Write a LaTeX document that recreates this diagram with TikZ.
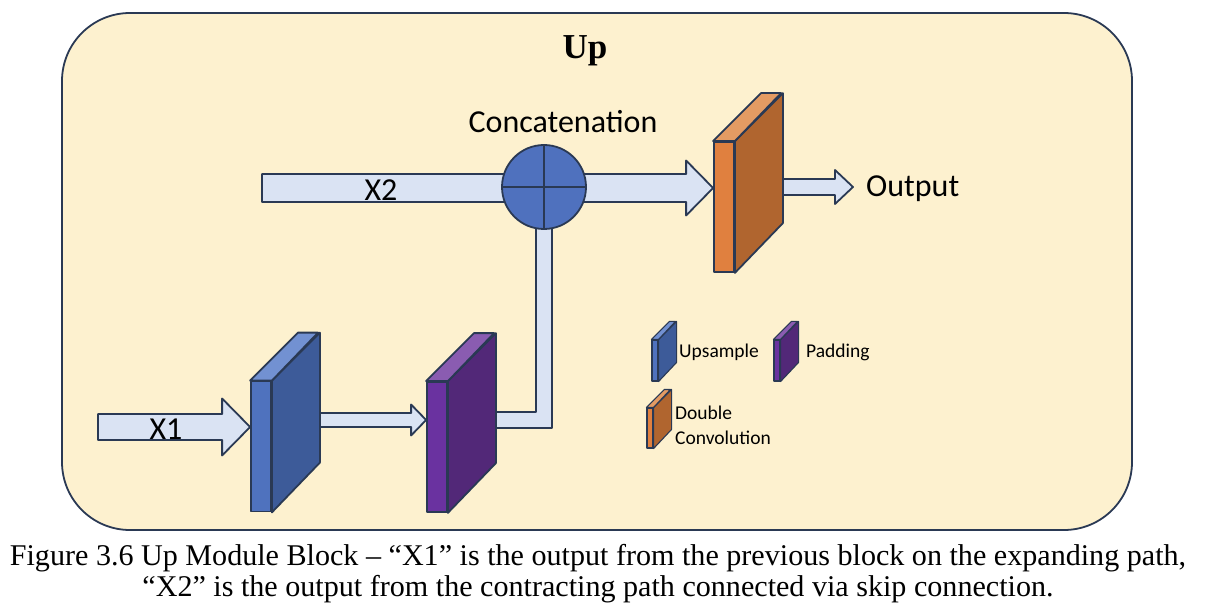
\documentclass[tikz,border=0pt]{standalone}
\usepackage{fontspec}
\setmainfont{Liberation Serif}
\newfontfamily\calibri{Carlito}
\usetikzlibrary{calc}

\definecolor{cream}{HTML}{FDF1CF}
\definecolor{navy}{HTML}{2A3954}
\definecolor{pipe}{HTML}{DAE3F3}
\definecolor{catblue}{HTML}{4F71BE}
\definecolor{upfront}{HTML}{4F72BE}
\definecolor{upside}{HTML}{3D5B99}
\definecolor{uptop}{HTML}{7291D2}
\definecolor{padfront}{HTML}{6A32A0}
\definecolor{padside}{HTML}{522878}
\definecolor{padtop}{HTML}{8A5CB1}
\definecolor{convfront}{HTML}{E0803F}
\definecolor{convside}{HTML}{B0652F}
\definecolor{convtop}{HTML}{E49B63}

\pgfdeclarelayer{back}
\pgfdeclarelayer{pipes}
\pgfsetlayers{back,pipes,main}

% feature map: front face is the node, side and top faces hang off its corners
\newcommand{\fmap}[6]{%
  \node[face, fill=#3front, minimum width=#4, minimum height=#5] (#1) at #2 {};
  \draw[wire, fill=#3side] (#1.north east) -- ++(#6,#6) -- ++(0,-#5) -- (#1.south east) -- cycle;
  \draw[wire, fill=#3top] (#1.north west) -- ++(#6,#6) -- ++(#4,0) -- (#1.north east) -- cycle;
}

% block arrow, level with its start
\newcommand{\fatarrow}[5]{%
  \draw[wire, fill=pipe] let \p1=#1, \p2=#2 in
    (\x1,\y1+#3) -- (\x2-#5,\y1+#3) -- (\x2-#5,\y1+#4) -- (\x2,\y1)
    -- (\x2-#5,\y1-#4) -- (\x2-#5,\y1-#3) -- (\x1,\y1-#3) -- cycle;
}

\begin{document}
\begin{tikzpicture}[x=1pt, y=-1pt,
    wire/.style={draw=navy, line width=1.8pt, line join=round},
    face/.style={wire, rectangle, inner sep=0pt},
    label/.style={font=\calibri\fontsize{32}{38}\selectfont},
    legend/.style={font=\calibri\fontsize{19.5}{25}\selectfont, align=left, anchor=west, inner sep=0pt}]

    \useasboundingbox (0,0) rectangle (1210,612);
    \begin{pgfonlayer}{back}
    \draw[wire, fill=cream, rounded corners=68pt] (62,13) rectangle (1132,530);
    \end{pgfonlayer}
    \node[font=\bfseries\fontsize{35}{40}\selectfont] (title) at (585,51) {Up};

    \coordinate (x2) at (262,188);
    \coordinate (x1) at (98,427);

    \fmap{up}{(261,446.5)}{up}{20pt}{130pt}{48pt}
    \fmap{pad}{(437,447)}{pad}{20pt}{130pt}{48pt}
    \fmap{conv}{(724,207)}{conv}{20pt}{130pt}{48pt}
    \node[wire, circle, fill=catblue, minimum size=84pt, inner sep=0pt] (cat) at (544,187) {};
    \draw[wire] (cat.north) -- (cat.south) (cat.west) -- (cat.east);

    \node[label] (catname) at (563,122) {Concatenation};
    \node[label] (x2name) at (381,190) {X2};
    \node[label] (x1name) at (166,429) {X1};
    \node[label, anchor=west, inner sep=0pt] (output) at (866,189) {Output};

    \coordinate (upout) at ([yshift=26.5pt]up.east);
    \coordinate (padout) at ([yshift=27pt]pad.east);
    \coordinate (convout) at ([yshift=20pt]conv.east);
    \coordinate (outtip) at ([xshift=-13pt]output.west);

    \begin{pgfonlayer}{pipes}
    \fatarrow{(x2)}{(conv.west)}{14pt}{27.5pt}{27pt}
    \fatarrow{(x1)}{(up.west)}{13pt}{28.5pt}{28pt}
    \fatarrow{(upout)}{(pad.west)}{7pt}{15.5pt}{15pt}
    \fatarrow{(convout)}{(outtip)}{8pt}{17pt}{18pt}
    \draw[wire, fill=pipe] let \p1=(padout), \p2=(cat) in
      (\x1,\y1+8pt) -- (\x2-8pt,\y1+8pt) -- (\x2-8pt,\y2) -- (\x2+8pt,\y2)
      -- (\x2+8pt,\y1-8pt) -- (\x1,\y1-8pt) -- cycle;
    \end{pgfonlayer}

    % legend
    \begin{scope}[wire/.append style={line width=1.1pt}]
    \fmap{upkey}{(655,360.5)}{up}{6pt}{41pt}{18pt}
    \fmap{padkey}{(777,360.5)}{pad}{6pt}{41pt}{18pt}
    \fmap{convkey}{(650,428)}{conv}{6pt}{40pt}{18pt}
    \end{scope}
    \node[legend] (upname) at (679,352) {Upsample};
    \node[legend] (padname) at (806,352) {Padding};
    \node[legend] (convname) at (675,425) {Double\\Convolution};

    \node[font=\fontsize{30.1}{31}\selectfont, align=center] (caption) at (598,574)
      {Figure 3.6 Up Module Block – “X1” is the output from the previous block on the expanding path,\\“X2” is the output from the contracting path connected via skip connection.};

\end{tikzpicture}
\end{document}
